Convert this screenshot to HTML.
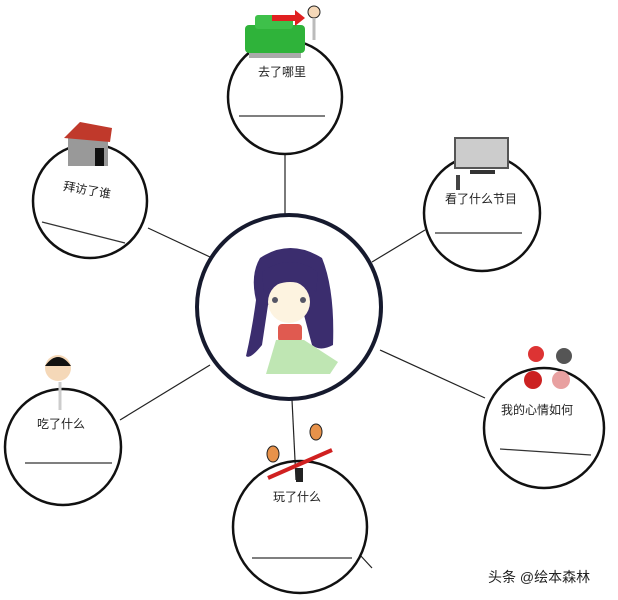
<!DOCTYPE html>
<html><head><meta charset="utf-8"><style>
html,body{margin:0;padding:0;background:#fff;width:618px;height:600px;overflow:hidden}
svg text{font-family:"Liberation Sans","Noto Sans CJK SC",sans-serif;fill:#222}
</style></head><body>
<svg width="618" height="600" viewBox="0 0 618 600" xmlns="http://www.w3.org/2000/svg">
<g stroke="#222" stroke-width="1.2">
<line x1="285" y1="155" x2="285" y2="215"/>
<line x1="148" y1="228" x2="210" y2="257"/>
<line x1="425" y1="230" x2="372" y2="262"/>
<line x1="120" y1="420" x2="210" y2="365"/>
<line x1="485" y1="398" x2="380" y2="350"/>
<line x1="292" y1="400" x2="296" y2="480"/>
<line x1="360" y1="555" x2="372" y2="568"/>
</g>
<g fill="none" stroke="#111" stroke-width="2.5">
<circle cx="285" cy="97" r="57"/>
<circle cx="90" cy="201" r="57"/>
<circle cx="482" cy="213" r="58"/>
<circle cx="63" cy="447" r="58"/>
<ellipse cx="300" cy="527" rx="67" ry="66"/>
<circle cx="544" cy="428" r="60"/>
</g>
<circle cx="289" cy="307" r="92" fill="#fff" stroke="#161a2e" stroke-width="4"/>
<!-- girl -->
<path d="M260 258 Q290 238 322 258 Q335 290 333 345 Q320 352 312 345 L300 300 L268 305 L262 345 Q250 360 246 356 Q252 330 256 300 Q250 275 260 258Z" fill="#3b2d6e"/>
<ellipse cx="289" cy="302" rx="21" ry="21" fill="#fdf3e0"/>
<path d="M264 292 Q290 272 316 292 L318 272 Q290 252 262 272Z" fill="#3b2d6e"/>
<circle cx="275" cy="300" r="3" fill="#556"/><circle cx="303" cy="300" r="3" fill="#556"/>
<rect x="278" y="324" width="24" height="18" rx="4" fill="#e05a50"/>
<path d="M266 374 L276 340 L304 340 L338 362 L330 374Z" fill="#bfe6b3"/>
<!-- car -->
<rect x="245" y="25" width="60" height="28" rx="4" fill="#2fb33a"/>
<rect x="255" y="15" width="38" height="14" rx="3" fill="#3ec04a"/>
<rect x="249" y="53" width="52" height="5" fill="#aaa"/>
<path d="M272 15 L295 15 L295 10 L305 18 L295 26 L295 21 L272 21Z" fill="#e02020"/>
<circle cx="314" cy="12" r="6" fill="#f5d8b8" stroke="#222"/>
<line x1="314" y1="18" x2="314" y2="40" stroke="#bbb" stroke-width="3"/>
<!-- house -->
<rect x="68" y="138" width="40" height="28" fill="#999"/>
<path d="M64 138 L80 122 L112 128 L110 142Z" fill="#c0392b"/>
<rect x="95" y="148" width="9" height="18" fill="#111"/>
<!-- tv -->
<rect x="455" y="138" width="53" height="30" fill="#ccc" stroke="#555" stroke-width="2"/>
<rect x="470" y="170" width="25" height="4" fill="#333"/>
<rect x="456" y="175" width="4" height="15" fill="#444"/>
<!-- eat man -->
<circle cx="58" cy="368" r="13" fill="#f5d8b8"/>
<path d="M45 366 Q58 348 71 366Z" fill="#111"/>
<line x1="60" y1="382" x2="60" y2="410" stroke="#ccc" stroke-width="3"/>
<!-- seesaw -->
<line x1="268" y1="478" x2="332" y2="450" stroke="#d02020" stroke-width="4"/>
<rect x="296" y="468" width="7" height="14" fill="#222"/>
<ellipse cx="273" cy="454" rx="6" ry="8" fill="#e8924a" stroke="#222"/>
<ellipse cx="316" cy="432" rx="6" ry="8" fill="#e8924a" stroke="#222"/>
<!-- faces -->
<circle cx="536" cy="354" r="8" fill="#d33"/>
<circle cx="564" cy="356" r="8" fill="#555"/>
<circle cx="533" cy="380" r="9" fill="#c22"/>
<circle cx="561" cy="380" r="9" fill="#e8a0a0"/>
<g font-size="12">
<text x="258" y="76">去了哪里</text>
<text x="63" y="193" transform="rotate(10 80 190)">拜访了谁</text>
<text x="445" y="203">看了什么节目</text>
<text x="37" y="428">吃了什么</text>
<text x="273" y="501">玩了什么</text>
<text x="501" y="414">我的心情如何</text>
<text x="488" y="582" font-size="14">头条 @绘本森林</text>
</g>
<g stroke="#333" stroke-width="1.2">
<line x1="239" y1="116" x2="325" y2="116"/>
<line x1="42" y1="222" x2="125" y2="243"/>
<line x1="435" y1="233" x2="522" y2="233"/>
<line x1="25" y1="463" x2="112" y2="463"/>
<line x1="252" y1="558" x2="352" y2="558"/>
<line x1="500" y1="449" x2="591" y2="455"/>
</g>
</svg>
</body></html>
